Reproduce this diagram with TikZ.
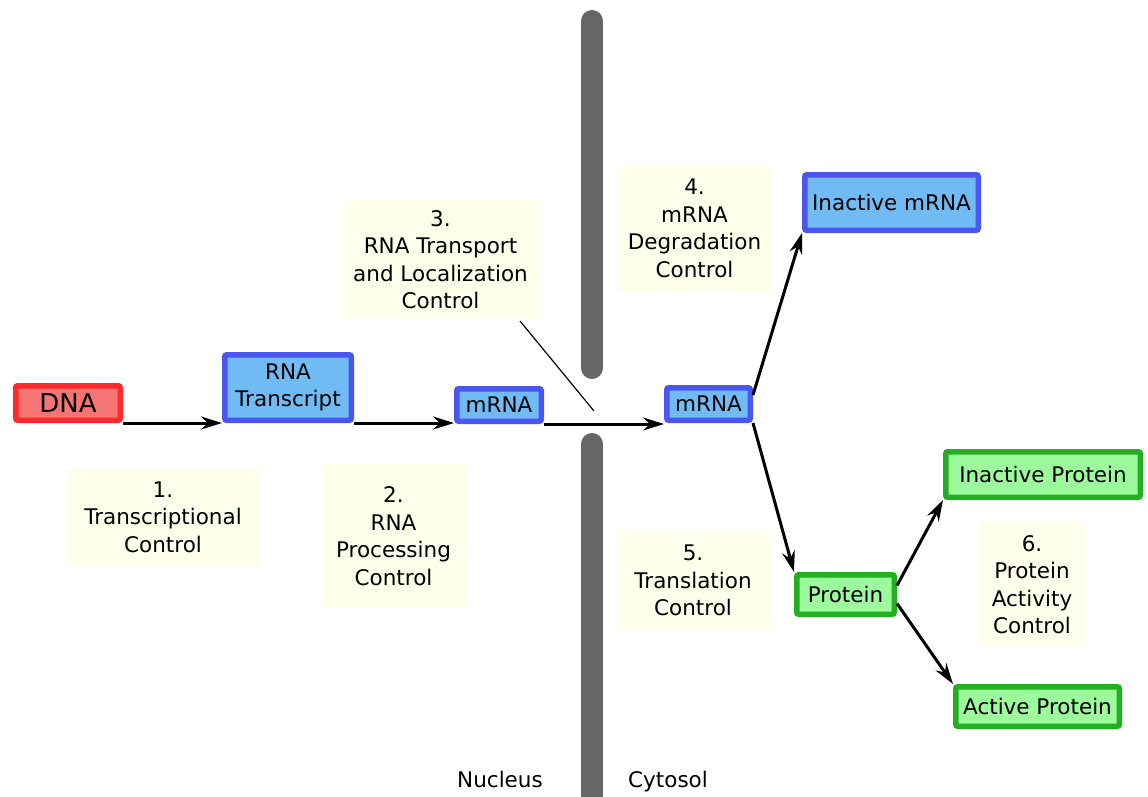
\documentclass[tikz,border=0pt]{standalone}
\usepackage{fontspec}
\setmainfont{DejaVu Sans}
\usetikzlibrary{arrows.meta}
\definecolor{bluefill}{HTML}{71BBF5}
\definecolor{blueline}{HTML}{4B55F0}
\definecolor{greenfill}{HTML}{9CFA9C}
\definecolor{greenline}{HTML}{22B022}
\definecolor{redfill}{HTML}{F77474}
\definecolor{redline}{HTML}{FF2A2A}
\definecolor{notefill}{HTML}{FDFFEA}
\definecolor{wall}{HTML}{666666}
\tikzset{
  box/.style={draw, line width=5.5pt, rounded corners=2pt, inner sep=0pt, align=center,
    font=\fontsize{21.5}{27}\selectfont},
  bluebox/.style={box, draw=blueline, fill=bluefill},
  greenbox/.style={box, draw=greenline, fill=greenfill},
  redbox/.style={box, draw=redline, fill=redfill},
  note/.style={fill=notefill, inner sep=0pt, align=center, font=\fontsize{21.5}{27.5}\selectfont},
  flow/.style={line width=3pt, -{Stealth[length=21pt,width=13pt,inset=7pt]}},
  membrane/.style={line width=22pt, line cap=round, draw=wall},
  plain/.style={font=\fontsize{21.5}{24}\selectfont, anchor=base}
}
\begin{document}
\begin{tikzpicture}[x=1pt,y=-1pt]
\useasboundingbox (0,0) rectangle (1148,796);
% membrane
\draw[membrane] (592,21) -- (592,368);
\draw[membrane] (592,444) -- (592,810);
% notes
\node[note, minimum width=193pt, minimum height=97pt] (n1) at (163,517) {1.\\Transcriptional\\Control};
\node[note, minimum width=143pt, minimum height=144pt] (n2) at (393.5,536) {2.\\RNA\\Processing\\Control};
\node[note, minimum width=193pt, minimum height=119pt] (n3) at (440.5,259.5) {3.\\RNA Transport\\and Localization\\Control};
\node[note, minimum width=155pt, minimum height=125pt] (n4) at (694.5,228.5) {4.\\mRNA\\Degradation\\Control};
\node[note, minimum width=152pt, minimum height=101pt] (n5) at (693,580.5) {5.\\Translation\\Control};
\node[note, minimum width=106pt, minimum height=125pt] (n6) at (1032,584.5) {6.\\Protein\\Activity\\Control};
% boxes
\node[redbox, minimum width=104.5pt, minimum height=34.5pt, font=\fontsize{26}{30}\selectfont] (dna) at (68,403) {DNA};
\node[bluebox, minimum width=126.5pt, minimum height=65.5pt] (rna) at (288,387.5) {RNA\\Transcript};
\node[bluebox, minimum width=84.5pt, minimum height=32.5pt] (m1) at (499,405) {mRNA};
\node[bluebox, minimum width=83.5pt, minimum height=32.5pt] (m2) at (708.5,404) {mRNA};
\node[bluebox, minimum width=173.5pt, minimum height=55.5pt] (im) at (891.5,202.5) {Inactive mRNA};
\node[greenbox, minimum width=97.5pt, minimum height=39.5pt] (p) at (845.5,594.5) {Protein};
\node[greenbox, minimum width=194.5pt, minimum height=45.5pt] (ip) at (1043,474.5) {Inactive Protein};
\node[greenbox, minimum width=163.5pt, minimum height=39.5pt] (ap) at (1037.5,706.5) {Active Protein};
% connectors
\draw[flow] (dna.south east) -- (dna.south east -| rna.west);
\draw[flow] (rna.south east) -- (rna.south east -| m1.west);
\draw[flow] (m1.south east) -- (m1.south east -| m2.west);
\draw[flow] ([yshift=9pt]m2.east) -- (im.south west);
\draw[flow] (m2.south east) -- (p.north west);
\draw[flow] ([yshift=9pt]p.east) -- (ip.south west);
\draw[flow] ([yshift=-9pt]p.east) -- (ap.north west);
\coordinate (c3) at (594,411);
\draw[line width=1.2pt] (520,321) -- (c3);
% labels
\node[plain] (nuc) at (500,787) {Nucleus};
\node[plain] (cyt) at (668,787) {Cytosol};
\end{tikzpicture}
\end{document}
